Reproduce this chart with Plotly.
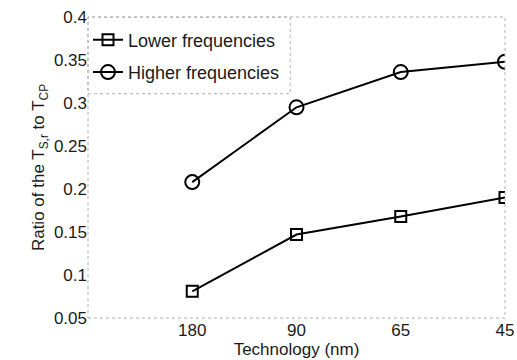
import plotly.graph_objects as go

categories = ["180", "90", "65", "45"]
lower = [0.081, 0.147, 0.168, 0.190]
higher = [0.208, 0.295, 0.336, 0.348]
yticks = [0.05, 0.1, 0.15, 0.2, 0.25, 0.3, 0.35, 0.4]
yticklabels = ["0.05", "0.1", "0.15", "0.2", "0.25", "0.3", "0.35", "0.4"]

xpos = list(range(len(categories)))

fig = go.Figure()
fig.add_trace(go.Scatter(
    x=xpos, y=lower, mode="lines+markers", name="Lower frequencies",
    legendgroup="a",
    line=dict(color="black", width=2),
    marker=dict(symbol="square-open", size=11, color="black", line=dict(width=2)),
))
fig.add_trace(go.Scatter(
    x=xpos, y=higher, mode="lines+markers", name="Higher frequencies",
    legendgroup="b",
    line=dict(color="black", width=2),
    marker=dict(symbol="circle-open", size=14, color="black", line=dict(width=2)),
))

font = "Liberation Sans, Arial, sans-serif"
fig.update_layout(
    width=517, height=360,
    margin=dict(l=88, r=12, t=17, b=42),
    paper_bgcolor="white", plot_bgcolor="white",
    font=dict(family=font, size=17, color="#1a1a1a"),
    showlegend=True,
    legend=dict(x=0, y=0.985, xanchor="left", yanchor="top",
                bgcolor="rgba(0,0,0,0)", borderwidth=0,
                font=dict(size=18), itemwidth=30, tracegroupgap=6,
                traceorder="grouped"),
    xaxis=dict(range=[-1, 3], tickvals=xpos, ticktext=categories,
               showgrid=False, zeroline=False, showline=False, ticks="",
               automargin=False, ticklabelstandoff=0,
               title=dict(text="Technology (nm)", standoff=0, font=dict(size=17))),
    yaxis=dict(range=[0.05, 0.4], tickvals=yticks, ticktext=yticklabels,
               showgrid=False, zeroline=False, showline=False, ticks="",
               automargin=False,
               title=dict(text="Ratio of the T<sub>S,r</sub> to T<sub>CP</sub>", standoff=4, font=dict(size=17))),
    shapes=[
        dict(type="rect", xref="paper", yref="paper", x0=0, y0=0, x1=1, y1=1,
             line=dict(color="#b0b0b0", width=1, dash="dot")),
        dict(type="rect", xref="paper", yref="paper", x0=0, y0=0.745, x1=0.485, y1=1,
             line=dict(color="#b0b0b0", width=1, dash="dot")),
    ],
)

fig.write_html("out.html")
